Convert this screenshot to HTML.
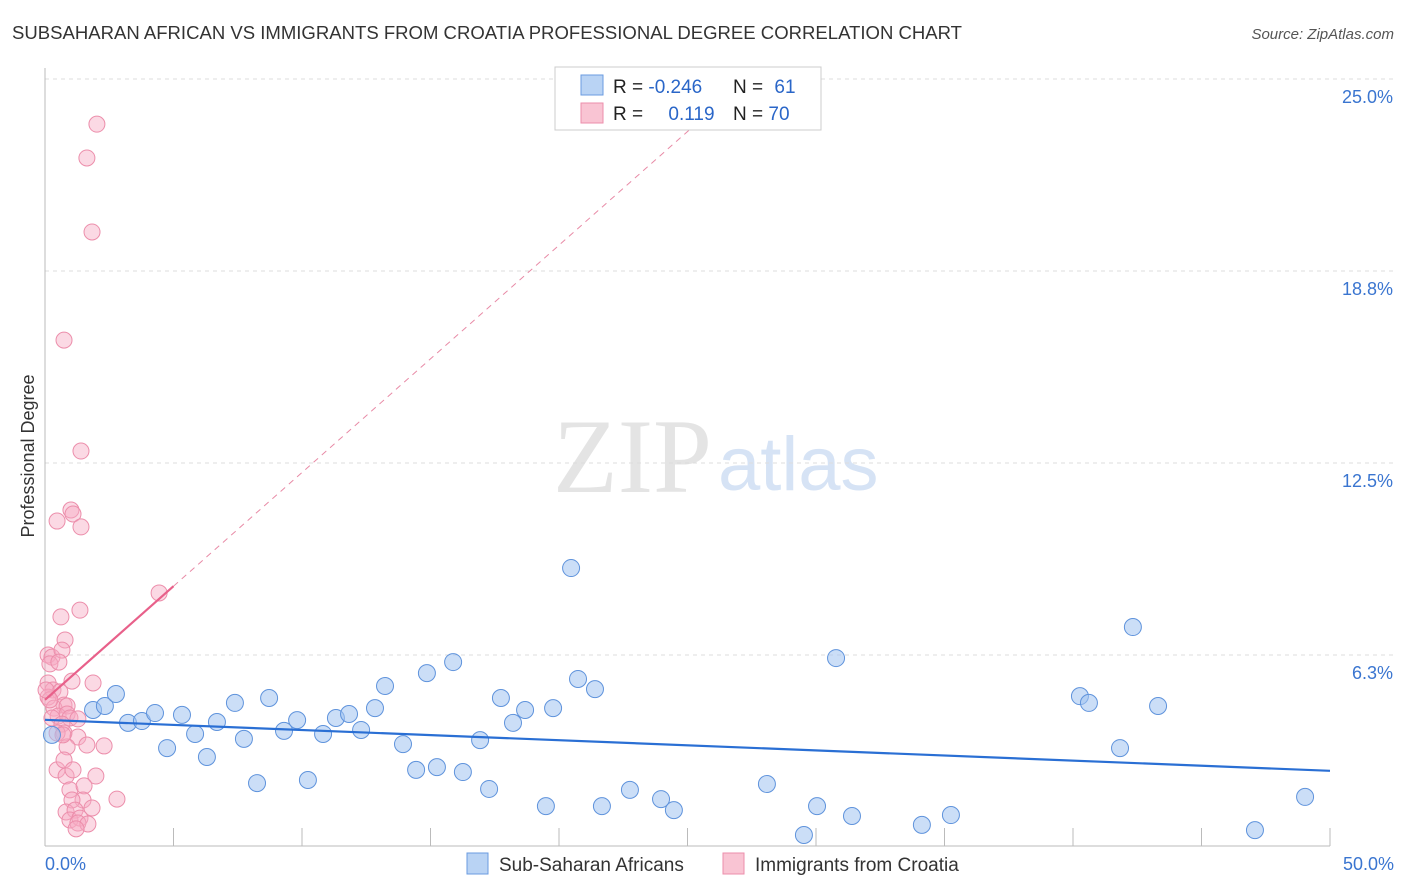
<!DOCTYPE html>
<html><head><meta charset="utf-8">
<style>
body{margin:0;background:#fff;font-family:"Liberation Sans",sans-serif;}
svg{display:block}
</style></head>
<body>
<svg id="chart" width="1406" height="892">
<text x="12" y="39" font-size="18" fill="#333" textLength="950" lengthAdjust="spacingAndGlyphs">SUBSAHARAN AFRICAN VS IMMIGRANTS FROM CROATIA PROFESSIONAL DEGREE CORRELATION CHART</text>
<text x="1394" y="39" font-size="15" fill="#555" font-style="italic" text-anchor="end">Source: ZipAtlas.com</text>
<text x="34" y="456" font-size="18" fill="#333" text-anchor="middle" transform="rotate(-90 34 456)">Professional Degree</text>
<g>
<text x="553" y="492" font-size="106" fill="#e4e4e4" font-family="Liberation Serif,serif">ZIP</text>
<text x="718" y="490" font-size="76" fill="#d6e3f5">atlas</text>
</g>
<g id="grid"></g><g id="axes"></g><g id="marks"></g>
<g>
<rect x="555" y="67" width="266" height="63" fill="#fff" stroke="#ccc"/>
<rect x="581" y="75" width="22" height="20" fill="#b9d3f4" stroke="#6a9be0"/>
<rect x="581" y="103" width="22" height="20" fill="#f9c4d3" stroke="#ec8eab"/>
<text x="613" y="93" font-size="19" fill="#222">R = <tspan fill="#2a66c8">-0.246</tspan></text>
<text x="733" y="93" font-size="19" fill="#222">N = <tspan fill="#2a66c8" dx="6">61</tspan></text>
<text x="613" y="120" font-size="19" fill="#222">R = <tspan fill="#2a66c8" dx="20">0.119</tspan></text>
<text x="733" y="120" font-size="19" fill="#222">N = <tspan fill="#2a66c8">70</tspan></text>
</g>
<g>
<rect x="467" y="853" width="21" height="21" fill="#b9d3f4" stroke="#6a9be0"/>
<text x="499" y="871" font-size="19" fill="#333">Sub-Saharan Africans</text>
<rect x="723" y="853" width="21" height="21" fill="#f9c4d3" stroke="#ec8eab"/>
<text x="755" y="871" font-size="19" fill="#333">Immigrants from Croatia</text>
</g>
</svg>
<script>
const yTicks=[6.25,12.5,18.75,25];
const yTickLabels=["6.3%","12.5%","18.8%","25.0%"];
const xTicks=[0,5,10,15,20,25,30,35,40,45,50];
const blueX=[0.27,1.87,2.33,2.76,3.23,3.77,4.28,4.75,5.33,5.84,6.30,6.69,7.39,7.74,8.25,8.72,9.30,9.81,10.23,10.82,11.32,11.83,12.30,12.84,13.23,13.93,14.44,14.86,15.25,15.88,16.26,16.93,17.28,17.74,18.21,18.68,19.49,19.77,20.47,20.74,21.40,21.67,22.76,23.97,24.47,28.09,29.53,30.04,30.78,31.40,34.12,35.25,40.27,40.62,41.83,42.33,43.31,47.08,49.03];
const blueY=[3.65,4.46,4.59,4.98,4.04,4.10,4.36,3.22,4.30,3.68,2.93,4.07,4.69,3.52,2.08,4.85,3.78,4.13,2.18,3.68,4.20,4.33,3.81,4.52,5.24,3.35,2.51,5.66,2.60,6.02,2.44,3.48,1.89,4.85,4.04,4.46,1.33,4.52,9.08,5.47,5.14,1.33,1.86,1.56,1.20,2.05,0.39,1.33,6.15,1.01,0.72,1.04,4.91,4.69,3.22,7.16,4.59,0.55,1.63];
const pinkX=[2.02,1.63,1.83,0.74,1.40,1.01,1.09,0.47,1.40,4.44,1.36,0.62,0.78,0.12,0.27,0.66,0.19,0.54,1.87,1.05,0.12,0.31,0.58,0.12,0.74,0.35,0.86,0.51,0.86,0.27,0.97,1.28,0.66,0.74,0.47,1.28,0.86,1.63,2.30,0.47,0.74,0.82,1.09,1.98,0.97,1.52,1.48,1.05,2.80,0.82,1.17,1.83,0.97,1.36,1.28,1.67,1.21,0.70,0.19,0.04];
const pinkY=[23.53,22.43,20.02,16.50,12.89,10.97,10.84,10.61,10.42,8.27,7.71,7.49,6.74,6.25,6.18,6.41,5.96,6.02,5.34,5.40,5.34,5.11,5.05,4.88,4.62,4.52,4.59,4.26,4.33,4.20,4.20,4.17,4.00,3.71,3.71,3.58,3.26,3.32,3.29,2.51,2.83,2.31,2.51,2.31,1.86,1.99,1.53,1.53,1.56,1.14,1.20,1.27,0.88,0.94,0.78,0.75,0.59,3.65,4.79,5.11];
const blueTrend=[4.14,2.48];
const pinkTrend=[4.79,0.74];
const NS="http://www.w3.org/2000/svg";
const X=v=>45+v/50*1285, Y=v=>847-v*30.72;
function mk(tag,attrs,parent){const e=document.createElementNS(NS,tag);for(const k in attrs)e.setAttribute(k,attrs[k]);parent.appendChild(e);return e;}
const grid=document.getElementById('grid'),axes=document.getElementById('axes'),marks=document.getElementById('marks');
yTicks.forEach((t,i)=>{
 const l=mk('line',{x1:45,x2:1394,y1:Y(t),y2:Y(t),stroke:'#ddd','stroke-dasharray':'4,4'},grid);
 
 
 const tx=mk('text',{x:1393,y:Y(t)+24,'font-size':18,fill:'#3a75d0','text-anchor':'end'},axes);
 tx.textContent=yTickLabels[i];
 
 
});
const ax=mk('line',{x1:45,x2:1330,y1:846,y2:846,stroke:'#bbb'},axes);


const ay=mk('line',{x1:45,x2:45,y1:68,y2:846,stroke:'#bbb'},axes);


xTicks.forEach(t=>{const l=mk('line',{x1:X(t),x2:X(t),y1:828,y2:846,stroke:'#bbb'},axes);
 
 });
[[0,"0.0%","start",45],[50,"50.0%","end",1394]].forEach(a=>{const t=mk('text',{x:a[3],y:870,'font-size':18,fill:'#3a75d0','text-anchor':a[2]},axes);t.textContent=a[1];
 
 });
pinkX.forEach((v,i)=>{const c=mk('circle',{cx:X(v),cy:Y(pinkY[i]),r:8,fill:'rgba(246,170,195,0.45)',stroke:'#ec8eab','stroke-width':1},marks);
 
 });
blueX.forEach((v,i)=>{const c=mk('circle',{cx:X(v),cy:Y(blueY[i]),r:8.5,fill:'rgba(160,195,240,0.55)',stroke:'#5f93dc','stroke-width':1},marks);
 
 });
const bl=mk('line',{x1:X(0),y1:Y(blueTrend[0]),x2:X(50),y2:Y(blueTrend[1]),stroke:'#2a6fd4','stroke-width':2.2},marks);


const pd=mk('line',{x1:X(5),y1:Y(pinkTrend[0]+pinkTrend[1]*5),x2:X(25.3),y2:Y(pinkTrend[0]+pinkTrend[1]*25.3),stroke:'#e88aa6','stroke-width':1,'stroke-dasharray':'6,5'},marks);


const pl=mk('line',{x1:X(0),y1:Y(pinkTrend[0]),x2:X(5),y2:Y(pinkTrend[0]+pinkTrend[1]*5),stroke:'#e8608a','stroke-width':2.2},marks);


</script>
</body></html>
